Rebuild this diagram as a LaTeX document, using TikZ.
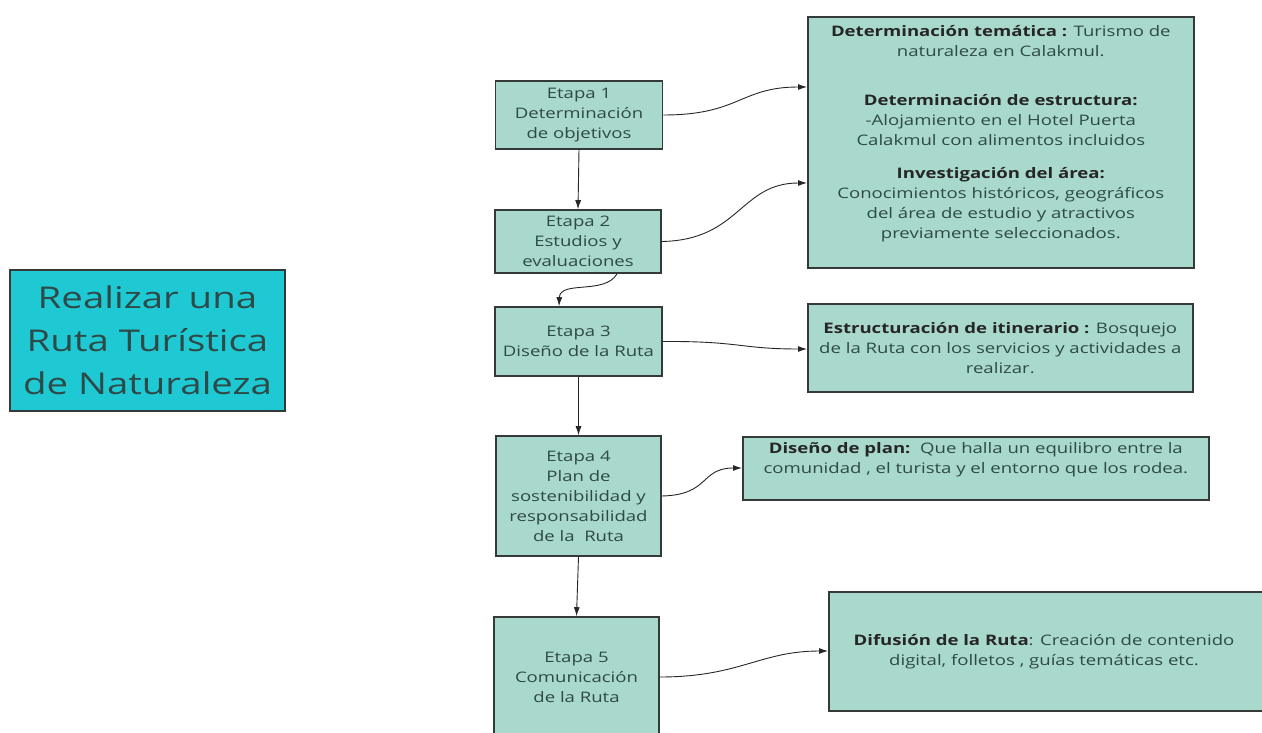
\documentclass[tikz,border=0pt]{standalone}
\usepackage{fontspec}
\setmainfont[FakeStretch=1.28]{Open Sans}
\usetikzlibrary{arrows.meta}
\definecolor{boxfill}{HTML}{A9D8CC}
\definecolor{mainfill}{HTML}{1FC9D3}
\definecolor{txt}{HTML}{2E4A48}
\definecolor{bord}{HTML}{333A38}
\tikzset{
  stage/.style={draw=bord, line width=1.6pt, fill=boxfill, text=txt, align=center, inner sep=0pt, font=\fontsize{14.5}{20}\selectfont},
  info/.style={draw=bord, line width=1.6pt, fill=boxfill, text=txt, align=center, inner sep=0pt, font=\fontsize{14.5}{20}\selectfont},
  infotext/.style={text=txt, align=center, inner sep=0pt, font=\fontsize{14.5}{20}\selectfont},
  conn/.style={draw=black!85, line width=0.9pt, -{Latex[length=9pt,width=6pt]}},
}
\newcommand{\bt}[1]{\textbf{\color{black!85}#1}}
\begin{document}
\begin{tikzpicture}[x=1pt,y=-1pt]
\useasboundingbox (0,0) rectangle (1262,733);
\clip (0,0) rectangle (1262,733);
% main box
\node[draw=bord, line width=1.6pt, fill=mainfill, text=txt, align=center, inner sep=0pt,
  minimum width=275pt, minimum height=141pt, font=\fontsize{30}{43}\selectfont]
  (main) at (147.5,340.5) {Realizar una\\Ruta Turística\\de Naturaleza};
% stages
\node[stage, minimum width=167pt, minimum height=68pt] (e1) at (579,115) {Etapa 1\\Determinación\\de objetivos};
\node[stage, minimum width=166pt, minimum height=63pt] (e2) at (578,241.5) {Etapa 2\\Estudios y\\evaluaciones};
\node[stage, minimum width=167pt, minimum height=69pt] (e3) at (578.5,341.5) {Etapa 3\\Diseño de la Ruta};
\node[stage, minimum width=165pt, minimum height=120pt] (e4) at (578.5,496) {Etapa 4\\Plan de\\sostenibilidad y\\responsabilidad\\de la\ \ Ruta};
\node[stage, minimum width=165pt, minimum height=120pt] (e5) at (576.5,677) {Etapa 5\\Comunicación\\de la Ruta};
% info boxes
\node[info, minimum width=386pt, minimum height=251pt, anchor=north west] (i1) at (807,16) {};
\node[infotext, anchor=north] at (i1.north) [yshift=-9pt] {%
\bt{Determinación temática :} Turismo de\\naturaleza en Calakmul.\\[29pt]
\bt{Determinación de estructura:}\\-Alojamiento en el Hotel Puerta\\Calakmul con alimentos incluidos\\[13pt]
\bt{Investigación del área:}\\Conocimientos históricos, geográficos\\del área de estudio y atractivos\\previamente seleccionados.};
\node[info, minimum width=385pt, minimum height=88pt, anchor=north west] (i3) at (807,303) {\bt{Estructuración de itinerario :} Bosquejo\\de la Ruta con los servicios y actividades a\\realizar.};
\node[info, minimum width=466pt, minimum height=63pt, anchor=north west] (i4) at (742,436) {};
\node[infotext, anchor=north] at (i4.north) [yshift=-6pt] {\bt{Diseño de plan:}\ \ Que halla un equilibro entre la\\comunidad , el turista y el entorno que los rodea.};
\node[info, minimum width=445pt, minimum height=119pt, anchor=north west] (i5) at (828,591) {};
\node[infotext] at (1044,652) {\bt{Difusión de la Ruta}: Creación de contenido\\digital, folletos , guías temáticas etc.};
% connectors
\draw[conn] (e1.south) -- (e2.north);
\draw[conn] (e1.east) .. controls (740,115) and (740,87) .. (i1.west |- 0,87);
\draw[conn] (e2.east) .. controls (740,240) and (740,183) .. (i1.west |- 0,183);
\draw[conn] (e2.south -| 617,0) .. controls (605,295) and (560,280) .. (e3.north -| 559,0);
\draw[conn] (e3.east) .. controls (740,341) and (740,349) .. (i3.west |- 0,349);
\draw[conn] (e3.south) -- (e4.north);
\draw[conn] (e4.east) .. controls (710,495) and (700,468) .. (i4.west |- 0,468);
\draw[conn] (e4.south) -- (e5.north);
\draw[conn] (e5.east) .. controls (740,677) and (760,651) .. (i5.west |- 0,651);
\end{tikzpicture}
\end{document}
